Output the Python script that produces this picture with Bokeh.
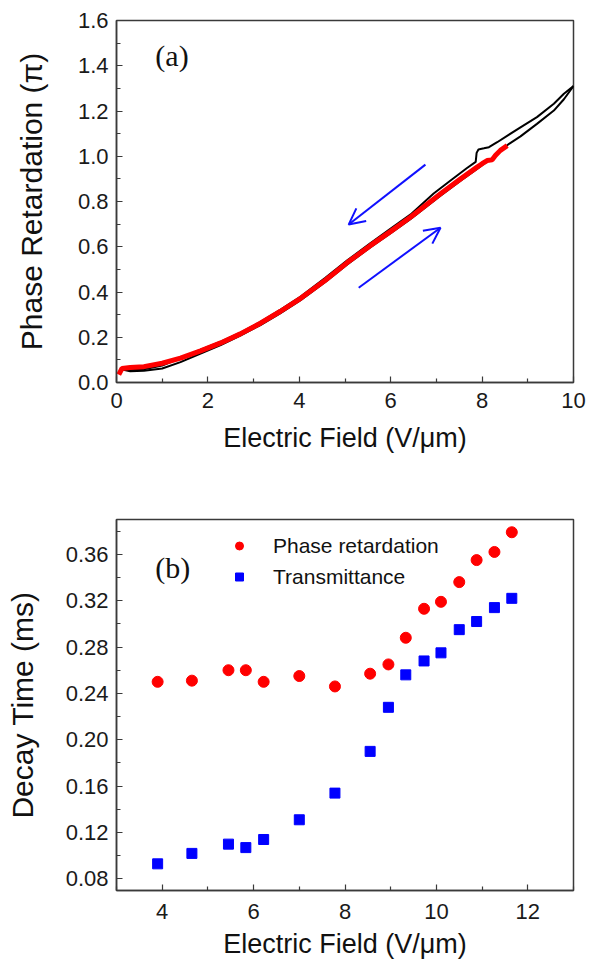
from bokeh.plotting import figure
from bokeh.layouts import column
from bokeh.models import (FixedTicker, NumeralTickFormatter, Arrow, OpenHead, Label,
                          Legend, LegendItem, Range1d)
from bokeh.embed import file_html
from bokeh.resources import INLINE

# ---------------- data: panel (a) ----------------
red_x = [0.05, 0.12, 0.3, 0.6, 1.0, 1.4, 1.84, 2.28, 2.71, 3.15, 3.59, 4.03, 4.39, 4.57,
         5.05, 5.56, 6.0, 6.43, 6.6, 7.09, 7.53, 7.89, 8.0, 8.11, 8.22, 8.29, 8.4, 8.55]
red_y = [0.035, 0.062, 0.066, 0.07, 0.085, 0.108, 0.14, 0.175, 0.215, 0.262, 0.315, 0.372,
         0.425, 0.452, 0.53, 0.606, 0.668, 0.73, 0.757, 0.834, 0.9, 0.952, 0.967, 0.981,
         0.984, 1.003, 1.026, 1.047]

black_up_x = [0.1, 0.3, 0.6, 1.0, 1.4, 1.84, 2.28, 2.71, 3.15, 3.59, 4.03, 4.57, 5.05, 5.56,
              6.0, 6.43, 7.09, 7.53, 7.89, 8.2, 8.59, 8.84, 9.2, 9.57, 9.79, 10.0]
black_up_y = [0.058, 0.05, 0.052, 0.062, 0.09, 0.128, 0.165, 0.207, 0.254, 0.307, 0.364, 0.444,
              0.522, 0.598, 0.66, 0.722, 0.826, 0.892, 0.944, 0.99, 1.055, 1.088, 1.143, 1.202,
              1.252, 1.31]

black_down_x = [10.0, 9.79, 9.57, 9.2, 8.84, 8.33, 8.15, 8.04, 7.92, 7.88, 7.86, 7.67, 7.31,
                6.94, 6.43, 6.0, 5.56, 5.05, 4.57, 4.03, 3.59, 3.15, 2.71, 2.28, 1.84, 1.4,
                1.0, 0.6, 0.3, 0.15, 0.1]
black_down_y = [1.31, 1.276, 1.232, 1.173, 1.128, 1.062, 1.04, 1.035, 1.03, 1.015, 0.975,
                0.948, 0.893, 0.835, 0.742, 0.68, 0.616, 0.54, 0.463, 0.38, 0.322, 0.268,
                0.22, 0.18, 0.145, 0.108, 0.075, 0.058, 0.055, 0.058, 0.062]

a_xticks = [0, 2, 4, 6, 8, 10]
a_xminor = [1, 3, 5, 7, 9]
a_yticks = [0.0, 0.2, 0.4, 0.6, 0.8, 1.0, 1.2, 1.4, 1.6]
a_yminor = [0.1, 0.3, 0.5, 0.7, 0.9, 1.1, 1.3, 1.5]

# ---------------- data: panel (b) ----------------
field_b = [3.9, 4.65, 5.45, 5.83, 6.22, 7.0, 7.78, 8.55, 8.95, 9.33, 9.73, 10.1, 10.5,
           10.88, 11.27, 11.65]
phase_decay = [0.250, 0.251, 0.260, 0.260, 0.250, 0.255, 0.246, 0.257, 0.265, 0.288, 0.313,
               0.319, 0.336, 0.355, 0.362, 0.379]
trans_decay = [0.093, 0.102, 0.110, 0.107, 0.114, 0.131, 0.154, 0.190, 0.228, 0.256, 0.268,
               0.275, 0.295, 0.302, 0.314, 0.322]

b_xticks = [4, 6, 8, 10, 12]
b_xminor = [3, 5, 7, 9, 11, 13]
b_yticks = [0.08, 0.12, 0.16, 0.20, 0.24, 0.28, 0.32, 0.36]
b_yminor = [0.10, 0.14, 0.18, 0.22, 0.26, 0.30, 0.34, 0.38]

SANS = "Liberation Sans"
SERIF = "Liberation Serif"
FRAME = "#3a3a3a"
BLUE = "#1010ff"


def style(p, xt, xm, yt, ym, yfmt):
    p.xgrid.visible = False
    p.ygrid.visible = False
    p.outline_line_color = FRAME
    p.outline_line_width = 1.5
    p.xaxis.ticker = FixedTicker(ticks=xt, minor_ticks=xm)
    p.yaxis.ticker = FixedTicker(ticks=yt, minor_ticks=ym)
    p.xaxis.formatter = NumeralTickFormatter(format="0")
    p.yaxis.formatter = NumeralTickFormatter(format=yfmt)
    for ax in (p.xaxis[0], p.yaxis[0]):
        ax.axis_line_color = FRAME
        ax.axis_line_width = 1.5
        ax.major_tick_in = 6
        ax.major_tick_out = 0
        ax.minor_tick_in = 4
        ax.minor_tick_out = 0
        ax.major_tick_line_color = FRAME
        ax.minor_tick_line_color = FRAME
        ax.major_tick_line_width = 1.2
        ax.minor_tick_line_width = 1.2
        ax.major_label_text_font = SANS
        ax.major_label_text_font_size = "22px"
        ax.major_label_text_color = "#1a1a1a"
        ax.axis_label_text_font = SANS
        ax.axis_label_text_font_style = "normal"
        ax.axis_label_text_color = "#111111"
    p.yaxis.major_label_standoff = 8
    p.xaxis.axis_label_text_font_size = "27px"
    p.yaxis.axis_label_text_font_size = "30px"


# ---------------- panel (a) ----------------
p1 = figure(width=598, height=470, output_backend="svg", toolbar_location=None,
            x_range=Range1d(0, 10), y_range=Range1d(0, 1.6),
            min_border_left=116, min_border_right=25, min_border_top=20,
            min_border_bottom=88)
style(p1, a_xticks, a_xminor, a_yticks, a_yminor, "0.0")
p1.xaxis.axis_label = "Electric Field (V/μm)"
p1.yaxis.axis_label = "Phase Retardation (π)"
p1.xaxis.major_label_standoff = 10
p1.xaxis.axis_label_standoff = 12
p1.yaxis.axis_label_standoff = 27

p1.line(black_up_x, black_up_y, line_color="black", line_width=2)
p1.line(black_down_x, black_down_y, line_color="black", line_width=2)
p1.line(red_x, red_y, line_color="#ff0000", line_width=5)

p1.add_layout(Arrow(end=OpenHead(size=16, line_color=BLUE, line_width=2),
                    x_start=6.76, y_start=0.963, x_end=5.08, y_end=0.698,
                    line_color=BLUE, line_width=2))
p1.add_layout(Arrow(end=OpenHead(size=16, line_color=BLUE, line_width=2),
                    x_start=5.30, y_start=0.419, x_end=7.09, y_end=0.684,
                    line_color=BLUE, line_width=2))
p1.add_layout(Label(x=0.85, y=1.447, text="(a)", text_font=SERIF, text_font_size="30px",
                    text_color="#111111", text_baseline="alphabetic"))

# ---------------- panel (b) ----------------
p2 = figure(width=598, height=492, output_backend="svg", toolbar_location=None,
            x_range=Range1d(3, 13), y_range=Range1d(0.07, 0.39),
            min_border_left=116, min_border_right=25, min_border_top=49,
            min_border_bottom=72)
style(p2, b_xticks, b_xminor, b_yticks, b_yminor, "0.00")
p2.xaxis.axis_label = "Electric Field (V/μm)"
p2.yaxis.axis_label = "Decay Time (ms)"
p2.xaxis.major_label_standoff = 13
p2.xaxis.axis_label_standoff = 7
p2.yaxis.axis_label_standoff = 24

r1 = p2.scatter(field_b, phase_decay, marker="circle", size=11, color="#ff0000")
r2 = p2.scatter(field_b, trans_decay, marker="square", size=10, color="#0000ff")

legend = Legend(items=[LegendItem(label="Phase retardation", renderers=[r1]),
                       LegendItem(label="Transmittance", renderers=[r2])],
                location=(113, 301), padding=0, margin=0, spacing=6,
                label_standoff=24, glyph_width=20, glyph_height=25, label_height=25,
                label_text_font=SANS, label_text_font_size="21px",
                label_text_color="#111111",
                border_line_alpha=0, background_fill_alpha=0)
p2.add_layout(legend)
p2.add_layout(Label(x=3.85, y=0.3486, text="(b)", text_font=SERIF, text_font_size="30px",
                    text_color="#111111", text_baseline="alphabetic"))

layout = column(p1, p2)
open("out.html", "w").write(file_html(layout, INLINE))
